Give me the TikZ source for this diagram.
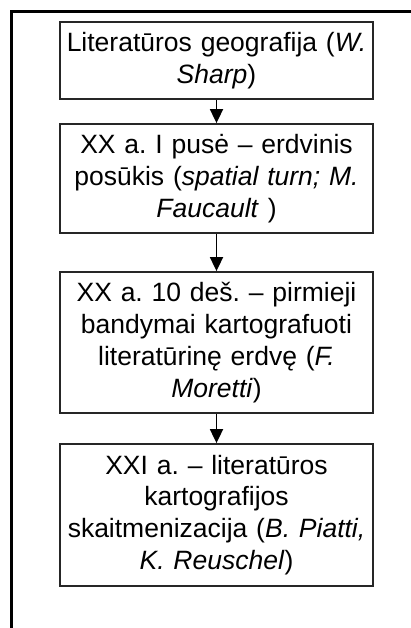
\documentclass[tikz,border=0pt]{standalone}
\usepackage{fontspec}
\setmainfont{Liberation Sans}
\usepackage{tikz}
\usetikzlibrary{arrows.meta}

\tikzset{
  stagebox/.style={draw=black!85,line width=1.8pt,minimum width=313pt,text width=306pt,
    align=center,inner sep=0pt,font=\fontsize{26.5}{31.8}\selectfont},
}

\begin{document}
\frenchspacing
\begin{tikzpicture}[x=1pt,y=-1pt,>={Triangle[width=13pt,length=14pt]}]
                \useasboundingbox (0,0) rectangle (411,628);
                \draw [line width=3.5pt](11.5,628)--(11.5,11.5)--(411,11.5);
                \node[stagebox,minimum height=77pt] (b1) at (216.5,60.5)
                    {Literatūros geografija (\textit{W.}\\ \textit{Sharp})};
                \node[stagebox,minimum height=109pt] (b2) at (216.5,178.5)
                    {XX a. I pusė – erdvinis\\ posūkis (\textit{spatial turn; M.}\\ \textit{Faucault} )};
                \node[stagebox,minimum height=141pt] (b3) at (216.5,342.5)
                    {XX a. 10 deš. – pirmieji\\ bandymai kartografuoti\\ literatūrinę erdvę (\textit{F.}\\ \textit{Moretti})};
                \node[stagebox,minimum height=142pt] (b4) at (216.5,515)
                    {XXI a. – literatūros\\ kartografijos\\ skaitmenizacija (\textit{B. Piatti,}\\ \textit{K. Reuschel})};
                \draw [->,line width=1.8pt](b1)--(b2);
                \draw [->,line width=1.8pt](b2)--(b3);
                \draw [->,line width=1.8pt](b3)--(b4);
\end{tikzpicture}
\end{document}
